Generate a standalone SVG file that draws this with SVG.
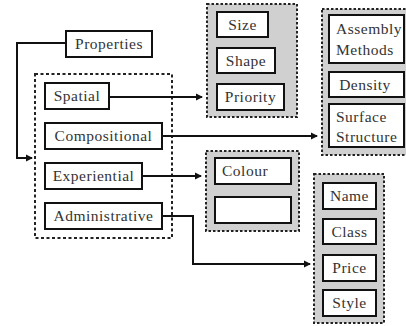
<svg xmlns="http://www.w3.org/2000/svg" width="406" height="326" viewBox="0 0 406 326">
<defs>
<style>
.box{fill:#fff;stroke:#111;stroke-width:2}
.grp{fill:#d0d0d0;stroke:#222;stroke-width:2;stroke-dasharray:2.5 2}
.cont{fill:none;stroke:#222;stroke-width:2;stroke-dasharray:3 2.5}
.t{font-family:"Liberation Serif","DejaVu Serif",serif;font-size:15.5px;fill:#333;letter-spacing:0.5px}
.m{text-anchor:middle}
.con{fill:none;stroke:#111;stroke-width:2}
</style>
<marker id="ah" markerWidth="8" markerHeight="8" refX="6" refY="4" orient="auto" markerUnits="userSpaceOnUse">
<path d="M0,0.5 L7,4 L0,7.5 Z" fill="#111"/>
</marker>
</defs>
<rect width="406" height="326" fill="#fff"/>

<g id="container"><rect class="cont" x="35" y="74" width="137" height="164"/></g>

<g id="group1"><rect class="grp" x="207" y="4" width="90" height="113"/></g>
<g id="group2"><rect class="grp" x="322" y="9" width="92" height="146"/></g>
<g id="group3"><rect class="grp" x="206" y="151" width="93" height="80"/></g>
<g id="group4"><rect class="grp" x="314" y="174" width="70" height="149"/></g>

<g id="connectors">
<polyline class="con" points="66,43 17,43 17,158 32,158" marker-end="url(#ah)"/>
<line class="con" x1="109" y1="97" x2="202" y2="97" marker-end="url(#ah)"/>
<line class="con" x1="162" y1="136" x2="317" y2="136" marker-end="url(#ah)"/>
<line class="con" x1="142" y1="176" x2="201" y2="176" marker-end="url(#ah)"/>
<polyline class="con" points="162,216 193,216 193,264 310,264" marker-end="url(#ah)"/>
</g>

<g id="properties"><rect class="box" x="66" y="31" width="86" height="26"/><text class="t m" x="109" y="49">Properties</text></g>
<g id="spatial"><rect class="box" x="45" y="83" width="64" height="26"/><text class="t m" x="77" y="101">Spatial</text></g>
<g id="compositional"><rect class="box" x="45" y="123" width="117" height="26"/><text class="t m" x="103.5" y="141">Compositional</text></g>
<g id="experiential"><rect class="box" x="45" y="163" width="97" height="26"/><text class="t m" x="93.5" y="181">Experiential</text></g>
<g id="administrative"><rect class="box" x="45" y="203" width="117" height="26"/><text class="t m" x="103.5" y="221">Administrative</text></g>

<g id="size"><rect class="box" x="217" y="12" width="51" height="25"/><text class="t m" x="242.5" y="29.5">Size</text></g>
<g id="shape"><rect class="box" x="217" y="48" width="58" height="25"/><text class="t m" x="246" y="65.5">Shape</text></g>
<g id="priority"><rect class="box" x="217" y="84" width="67" height="26"/><text class="t m" x="250.5" y="102">Priority</text></g>

<g id="assembly"><rect class="box" x="329" y="15" width="75" height="48"/><text class="t" x="336" y="34">Assembly</text><text class="t" x="336" y="55">Methods</text></g>
<g id="density"><rect class="box" x="329" y="72" width="75" height="25"/><text class="t m" x="365" y="89.5">Density</text></g>
<g id="surface"><rect class="box" x="329" y="104" width="75" height="43"/><text class="t" x="336" y="122">Surface</text><text class="t" x="336" y="142">Structure</text></g>

<g id="colour"><rect class="box" x="215" y="158" width="76" height="26"/><text class="t" x="222" y="176">Colour</text></g>
<g id="empty"><rect class="box" x="215" y="197" width="76" height="26"/></g>

<g id="name"><rect class="box" x="323" y="183" width="53" height="26"/><text class="t m" x="349.5" y="201">Name</text></g>
<g id="class"><rect class="box" x="323" y="219" width="53" height="25"/><text class="t m" x="349.5" y="236.5">Class</text></g>
<g id="price"><rect class="box" x="323" y="255" width="53" height="26"/><text class="t m" x="349.5" y="273">Price</text></g>
<g id="style"><rect class="box" x="323" y="290" width="53" height="26"/><text class="t m" x="349.5" y="308">Style</text></g>
</svg>
